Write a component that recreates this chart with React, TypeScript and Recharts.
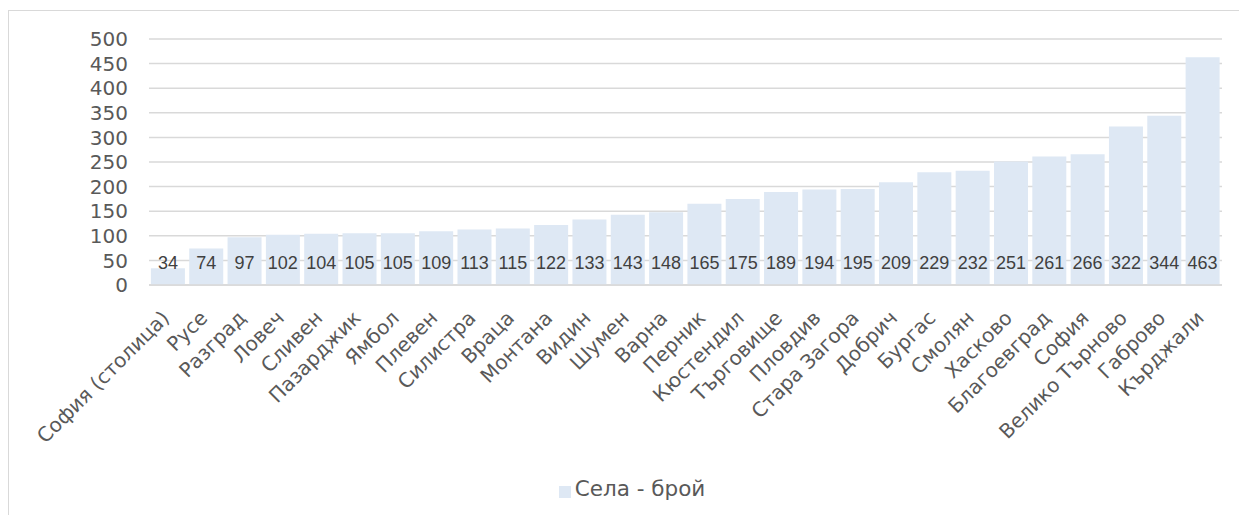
import React from "react";
import { BarChart, Bar, XAxis, YAxis, CartesianGrid, Legend, LabelList } from "recharts";

const regions = [
  "София (столица)", "Русе", "Разград", "Ловеч", "Сливен", "Пазарджик", "Ямбол",
  "Плевен", "Силистра", "Враца", "Монтана", "Видин", "Шумен", "Варна", "Перник",
  "Кюстендил", "Търговище", "Пловдив", "Стара Загора", "Добрич", "Бургас", "Смолян",
  "Хасково", "Благоевград", "София", "Велико Търново", "Габрово", "Кърджали",
];
const villages = [
  34, 74, 97, 102, 104, 105, 105, 109, 113, 115, 122, 133, 143, 148, 165,
  175, 189, 194, 195, 209, 229, 232, 251, 261, 266, 322, 344, 463,
];
const yTicks = [0, 50, 100, 150, 200, 250, 300, 350, 400, 450, 500];

const data = regions.map((name, i) => ({ name, value: villages[i] }));

const FONT = "'DejaVu Sans', Verdana, sans-serif";

function RegionTick({ x, y, payload }: any) {
  return (
    <g transform={`translate(${x - 2},${y + 22})`}>
      <text
        transform="rotate(-45)"
        textAnchor="end"
        fill="#595959"
        fontSize={20}
        fontFamily={FONT}
        dy={6}
      >
        {payload.value}
      </text>
    </g>
  );
}

export default function App() {
  return (
    <div style={{ position: "absolute", left: 0, top: 0, width: 1239, height: 515, overflow: "hidden", background: "#fff" }}>
      <div style={{ position: "absolute", left: 8, top: 10, width: 1300, height: 600, border: "1px solid #d9d9d9" }} />
      <div style={{ position: "absolute", left: 0, top: 0 }}>
        <BarChart
          width={1239}
          height={515}
          data={data}
          margin={{ top: 39, right: 17, left: 0, bottom: 14 }}
          barCategoryGap="5%"
        >
          <CartesianGrid vertical={false} stroke="#d9d9d9" strokeWidth={1.5} />
          <XAxis
            dataKey="name"
            interval={0}
            height={191}
            tickLine={false}
            axisLine={{ stroke: "#d9d9d9", strokeWidth: 1.5 }}
            tick={<RegionTick />}
          />
          <YAxis
            width={149}
            domain={[0, 500]}
            ticks={yTicks}
            interval={0}
            axisLine={false}
            tickLine={false}
            tickSize={0}
            tickMargin={21}
            tick={{ fill: "#595959", fontSize: 20, fontFamily: FONT }}
          />
          <Legend
            verticalAlign="bottom"
            iconType="square"
            iconSize={12}
            wrapperStyle={{ paddingLeft: 26 }}
            formatter={(v: string) => (
              <span style={{ color: "#595959", fontSize: 21.5, fontFamily: FONT }}>{v}</span>
            )}
          />
          <Bar dataKey="value" name="Села - брой" fill="#dee8f4" isAnimationActive={false}>
            <LabelList
              dataKey="value"
              position="insideBottom"
              offset={16}
              fill="#404040"
              fontSize={18}
              fontFamily="'Liberation Sans', Arial, sans-serif"
            />
          </Bar>
        </BarChart>
      </div>
    </div>
  );
}
